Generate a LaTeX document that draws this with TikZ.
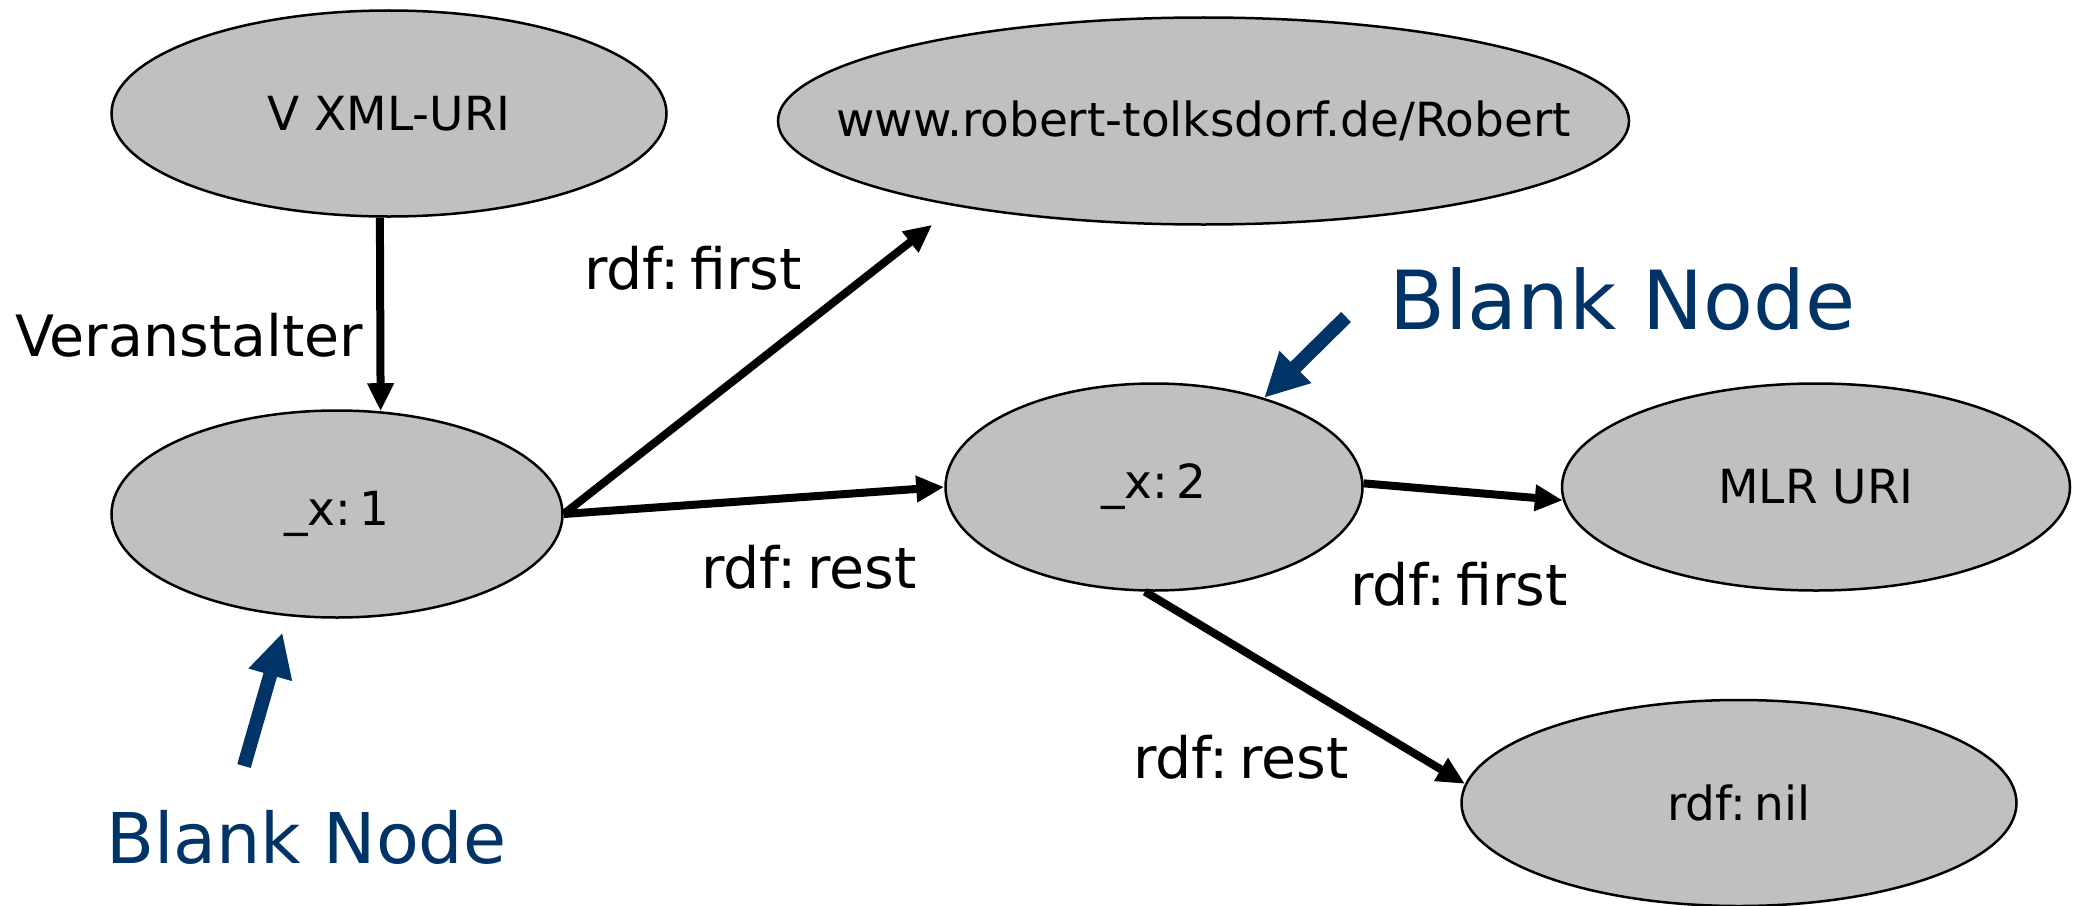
\documentclass[tikz,border=0pt]{standalone}
\usepackage{fontspec}
\setmainfont{DejaVu Sans}
\usetikzlibrary{arrows.meta,shapes.geometric}
\definecolor{ellfill}{RGB}{192,192,192}
\definecolor{bnblue}{RGB}{0,51,102}
\newcommand{\ctext}[1]{\makebox[0pt][c]{#1}}
\begin{document}
\begin{tikzpicture}[x=1bp,y=-1bp,
  ell/.style={ellipse,draw=black,line width=2.5bp,fill=ellfill,inner sep=0pt,
    font=\fontsize{47bp}{56bp}\selectfont},
  lbl/.style={font=\fontsize{57bp}{68bp}\selectfont,inner sep=0pt,anchor=base west},
  arr/.style={line width=8bp,-{Triangle[length=28bp,width=25bp]}},
  barr/.style={draw=bnblue,line width=14bp,-{Triangle[length=44bp,width=42bp]}},
  bn/.style={text=bnblue,inner sep=0pt,anchor=base west}]
\useasboundingbox (0,0) rectangle (2082,906);

\node[ell,minimum width=555bp,minimum height=206bp] (vxml) at (389,113.5) {\ctext{V XML-URI}};
\node[ell,minimum width=851bp,minimum height=207bp] (www) at (1203.5,121) {\ctext{www.robert-tolksdorf.de/Robert}};
\node[ell,minimum width=451bp,minimum height=207bp] (x1) at (337,514) {\ctext{\_x:\hspace{0.18em}1}};
\node[ell,minimum width=417bp,minimum height=207bp] (x2) at (1154,487) {\ctext{\_x:\hspace{0.18em}2}};
\node[ell,minimum width=508bp,minimum height=207bp] (mlr) at (1816,487) {\ctext{MLR URI}};
\node[ell,minimum width=555bp,minimum height=206bp] (nil) at (1739,803) {\ctext{rdf:\hspace{0.18em}nil}};

\node[lbl] (lver) at (15,356) {Veranstalter};
\node[lbl] (lfirst1) at (584,289) {rdf:\hspace{0.18em}first};
\node[lbl] (lrest1) at (701,588) {rdf:\hspace{0.18em}rest};
\node[lbl] (lfirst2) at (1350,605) {rdf:\hspace{0.18em}first};
\node[lbl] (lrest2) at (1133,778) {rdf:\hspace{0.18em}rest};

\node[bn,font=\fontsize{81.5bp}{96bp}\selectfont] (bn2) at (1389,329) {Blank Node};
\node[bn,font=\fontsize{70bp}{84bp}\selectfont] (bn1) at (106,863) {Blank Node};

\coordinate (b1s) at (244,766);
\coordinate (b2s) at (1346,317);

\draw[arr] (vxml.-95) -- (x1.67);
\draw[arr,shorten >=30bp] (x1.east) -- (www.199);
\draw[arr] (x1.east) -- (x2.west);
\draw[arr] (x2.1) -- (mlr.183);
\draw[arr] (x2.-95) -- (nil.176);

\draw[barr,shorten >=17bp] (b1s) -- (x1.-116);
\draw[barr] (b2s) -- (x2.39);
\end{tikzpicture}
\end{document}
